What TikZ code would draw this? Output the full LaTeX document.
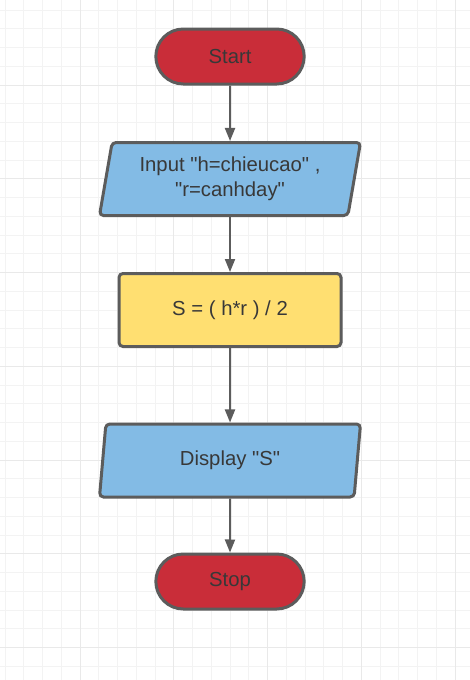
\documentclass[tikz,border=0pt]{standalone}
\usepackage{fontspec}
\newfontfamily\flowfont{Liberation Sans}
\usetikzlibrary{shapes.geometric,shapes.misc,arrows.meta}
\definecolor{gridminor}{HTML}{F3F3F3}
\definecolor{gridmajor}{HTML}{E9E9E9}
\definecolor{edgegray}{HTML}{5C5C5C}
\definecolor{textgray}{HTML}{383838}
\definecolor{termred}{HTML}{C92D39}
\definecolor{ioblue}{HTML}{83BBE5}
\definecolor{procyellow}{HTML}{FFDF71}
\begin{document}
\begin{tikzpicture}[x=1pt,y=-1pt,
  minorline/.style={gridminor, line width=1pt},
  majorline/.style={gridmajor, line width=1pt},
  box/.style={draw=edgegray, line width=3pt, text=textgray, align=center,
    font=\flowfont\fontsize{20.3}{25}\selectfont},
  terminal/.style={box, rounded rectangle, fill=termred,
    minimum width=155pt, minimum height=55pt},
  iobox/.style={box, trapezium, trapezium left angle=76, trapezium right angle=104,
    trapezium stretches body, rounded corners=4pt, fill=ioblue,
    minimum width=261pt, minimum height=73pt},
  procbox/.style={box, rectangle, rounded corners=4pt, fill=procyellow,
    minimum width=222pt, minimum height=73pt},
  flowarrow/.style={edgegray, line width=2pt, -{Triangle[length=13pt,width=10pt]}}]
\useasboundingbox (0,0) rectangle (470,680);
\fill[white] (0,0) rectangle (470,680);
% grid
\foreach \i in {0,...,24} \draw[minorline] ({5+18.75*\i},0) -- ({5+18.75*\i},680);
\foreach \j in {0,...,35} \draw[minorline] (0,{10+18.75*\j}) -- (470,{10+18.75*\j});
\foreach \i in {0,...,4} \draw[majorline] ({80+93.75*\i},0) -- ({80+93.75*\i},680);
\foreach \j in {0,...,6} \draw[majorline] (0,{85+93.75*\j}) -- (470,{85+93.75*\j});

\node[terminal] (start) at (230,56.5){Start};
\node[iobox] (input) at (230,179){Input "h=chieucao" ,\\"r=canhday"};
\node[procbox] (calc) at (230,310){S = ( h*r ) / 2};
\node[iobox] (display) at (230,460.5){Display "S"};
\node[terminal] (stop) at (230,581.5){Stop};
\draw[flowarrow](start) -- (input);
\draw[flowarrow](input) -- (calc);
\draw[flowarrow](calc) -- (display);
\draw[flowarrow](display) -- (stop);

\end{tikzpicture}
\end{document}
